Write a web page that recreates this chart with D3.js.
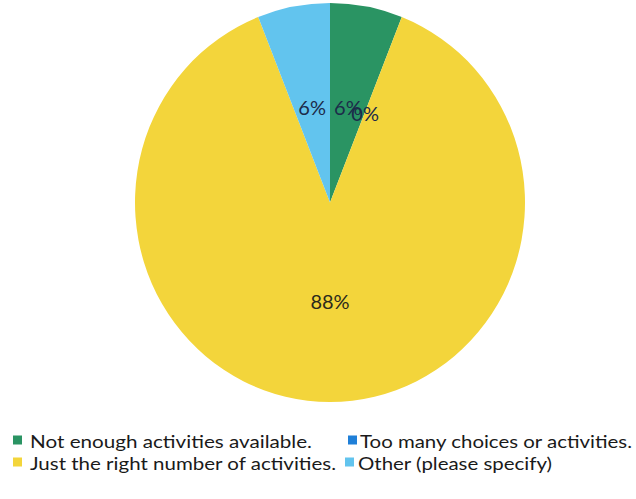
<!DOCTYPE html>
<html>
<head>
<meta charset="utf-8">
<script src="https://cdn.jsdelivr.net/npm/d3@7"></script>
<style>
html,body{margin:0;padding:0;background:#fff;}
</style>
</head>
<body>
<svg id="chart" width="636" height="499"></svg>
<script>
const categories = ["Not enough activities available.", "Too many choices or activities.", "Just the right number of activities.", "Other (please specify)"];
const values = [6, 0, 88, 6];
const labels = ["6%", "0%", "88%", "6%"];
const colors = ["#2a9463", "#1f7fd8", "#f3d53b", "#62c4ee"];

const svg = d3.select("#chart");
const cx = 330, cy = 202.5, rx = 195, ry = 199.5;
const r = rx, yScale = ry / rx;

const pie = d3.pie().sort(null).value(d => d);
const arcs = pie(values);
const arc = d3.arc().innerRadius(0).outerRadius(r);
const labelArc = d3.arc().innerRadius(r * 0.49).outerRadius(r * 0.49);

const g = svg.append("g").attr("transform", `translate(${cx},${cy})`);
g.append("g").attr("transform", `scale(1,${yScale})`)
  .selectAll("path").data(arcs).enter().append("path")
  .attr("d", arc)
  .attr("fill", (d, i) => colors[i]);

g.selectAll("text.lbl").data(arcs).enter().append("text")
  .attr("class", "lbl")
  .attr("x", d => labelArc.centroid(d)[0])
  .attr("y", d => labelArc.centroid(d)[1] * yScale + 1)
  .attr("text-anchor", "middle")
  .attr("dominant-baseline", "central")
  .attr("font-family", "Lato, 'Open Sans', sans-serif")
  .attr("font-size", 20)
  .attr("fill", (d, i) => i === 2 ? "#2b2a1c" : "#1c2b4a")
  .text((d, i) => labels[i]);

// legend
const legendItems = [
  {i: 0, x: 13, tx: 30, y: 440, w: 282},
  {i: 1, x: 348, tx: 360, y: 440, w: 272},
  {i: 2, x: 13, tx: 30, y: 462, w: 306},
  {i: 3, x: 345, tx: 358, y: 462, w: 194}
];
const leg = svg.append("g");
legendItems.forEach(it => {
  leg.append("rect").attr("x", it.x).attr("y", it.y - 4.5).attr("width", 9).attr("height", 9)
    .attr("fill", colors[it.i]);
  leg.append("text").attr("x", it.tx).attr("y", it.y + 1)
    .attr("dominant-baseline", "central")
    .attr("font-family", "Lato, 'Open Sans', sans-serif")
    .attr("font-size", 18)
    .attr("fill", "#1a1a1a")
    .attr("textLength", it.w).attr("lengthAdjust", "spacingAndGlyphs")
    .text(categories[it.i]);
});
</script>
</body>
</html>
